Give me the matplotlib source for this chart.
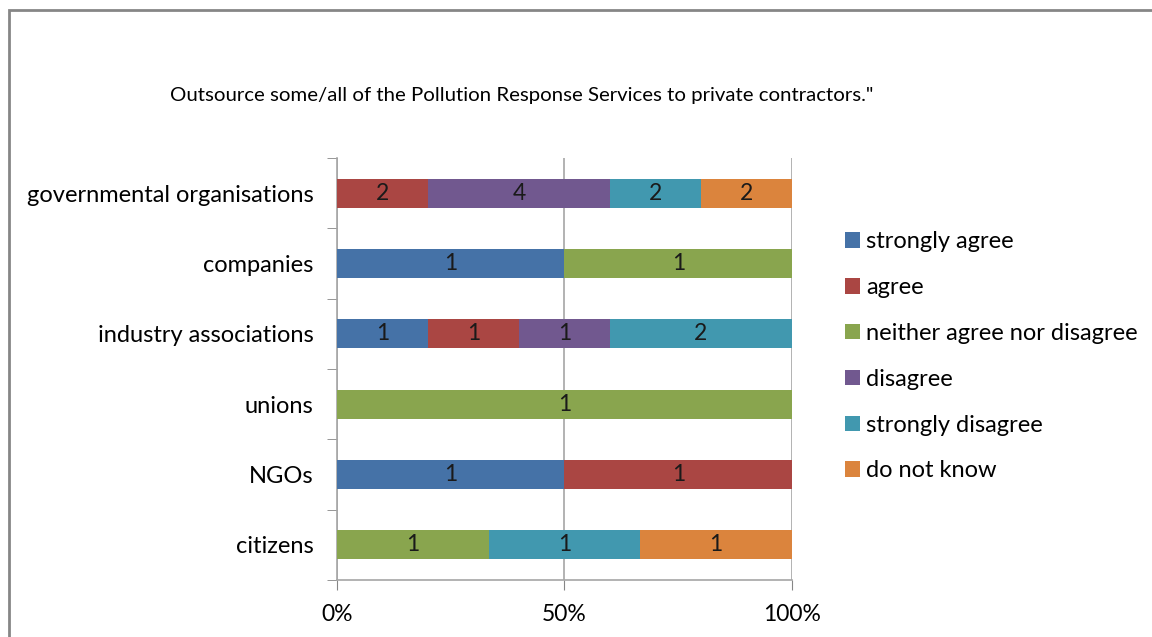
import matplotlib.pyplot as plt
import numpy as np
from matplotlib.patches import Rectangle
from matplotlib.ticker import PercentFormatter

plt.rcParams['font.family'] = ['Lato', 'DejaVu Sans']

groups = ['governmental organisations', 'companies', 'industry associations',
          'unions', 'NGOs', 'citizens']
answers = ['strongly agree', 'agree', 'neither agree nor disagree',
           'disagree', 'strongly disagree', 'do not know']
colors = ['#4572A7', '#AA4643', '#89A54E', '#71588F', '#4198AF', '#DB843D']

strongly_agree = [0, 1, 1, 0, 1, 0]
agree = [2, 0, 1, 0, 1, 0]
neither = [0, 1, 0, 1, 0, 1]
disagree = [4, 0, 1, 0, 0, 0]
strongly_disagree = [2, 0, 2, 0, 0, 1]
do_not_know = [2, 0, 0, 0, 0, 1]

counts = np.array([strongly_agree, agree, neither, disagree,
                   strongly_disagree, do_not_know], dtype=float)
totals = counts.sum(axis=0)
shares = counts / totals * 100

fig = plt.figure(figsize=(11.52, 6.37), dpi=100)
ax = fig.add_axes([0.2925, 0.0895, 0.395, 0.6625])

# outer chart frame (left and top edges visible)
fig.patches.append(Rectangle((9 / 1152, -0.1), 1.2, 1 - 10 / 637 + 0.1,
                             transform=fig.transFigure, fill=False,
                             edgecolor='#868686', linewidth=2))

y = np.arange(len(groups))
left = np.zeros(len(groups))
for i, ans in enumerate(answers):
    ax.barh(y, shares[i], left=left, height=0.41, color=colors[i],
            label=ans, zorder=3)
    for j in range(len(groups)):
        if counts[i, j] > 0:
            ax.text(left[j] + shares[i, j] / 2, y[j], '%d' % counts[i, j],
                    ha='center', va='center', fontsize=16.5, color='#1a1a1a',
                    zorder=4)
    left += shares[i]

ax.set_xlim(0, 100)
ax.set_ylim(len(groups) - 0.5, -0.5)
ax.set_xticks([0, 50, 100])
ax.xaxis.set_major_formatter(PercentFormatter(decimals=0))
ax.set_yticks(y)
ax.set_yticklabels(groups)
ax.set_yticks(np.arange(-0.5, len(groups)), minor=True)
ax.tick_params(axis='y', which='major', length=0, pad=17, labelsize=17)
ax.tick_params(axis='y', which='minor', length=7, color='#868686')
ax.tick_params(axis='x', length=7, color='#868686', pad=10, labelsize=16.5)
ax.grid(axis='x', color='#a6a6a6', linewidth=1.2, zorder=0)
for s in ['top', 'right']:
    ax.spines[s].set_visible(False)
for s in ['left', 'bottom']:
    ax.spines[s].set_color('#a6a6a6')
    ax.spines[s].set_linewidth(1.2)

fig.text(522 / 1152, 1 - 95 / 637,
         'Outsource some/all of the Pollution Response Services to private contractors."',
         ha='center', va='center', fontsize=14.7)

fig.legend(loc='upper left', bbox_to_anchor=(836 / 1152, 1 - 222 / 637),
           frameon=False, fontsize=17, handlelength=0.62, handleheight=0.62,
           handletextpad=0.25, labelspacing=1.05, borderaxespad=0)

fig.savefig('out.png', dpi=100)
